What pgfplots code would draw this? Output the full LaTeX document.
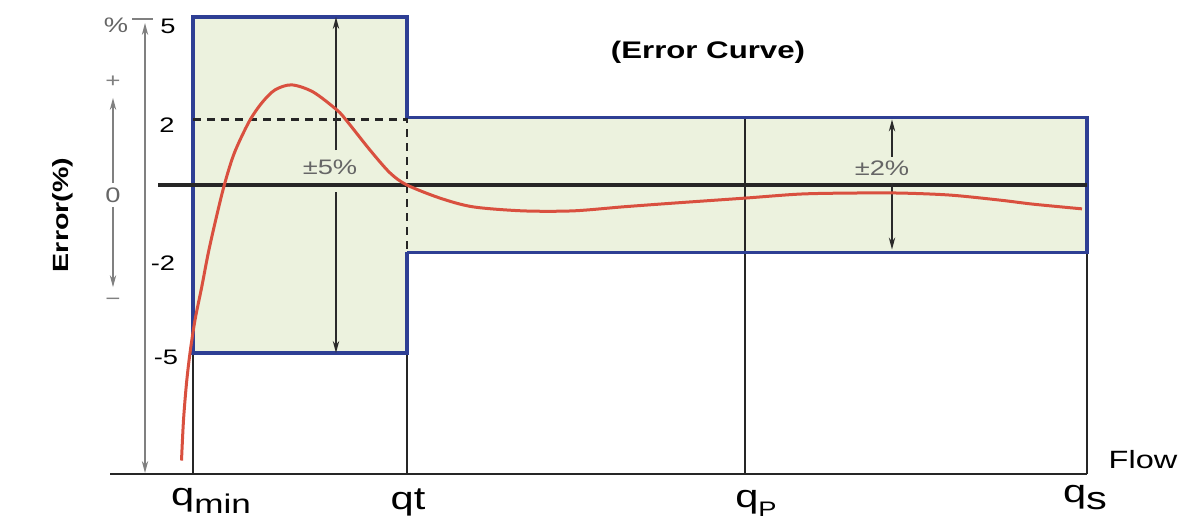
\documentclass[border=0pt]{standalone}
\usepackage{fontspec}
\setmainfont{Liberation Sans}[FakeStretch=1.3]
\usepackage{pgfplots}
\pgfplotsset{compat=1.18}
\usetikzlibrary{arrows.meta}

\definecolor{boxfill}{HTML}{ECF2DE}
\definecolor{boxblue}{HTML}{2E3F94}
\definecolor{curvered}{HTML}{D9503F}
\definecolor{lineblk}{HTML}{262626}
\definecolor{txt}{HTML}{2A2A2A}
\definecolor{soft}{HTML}{666666}

\newcommand{\fs}[1]{\fontsize{#1}{#1}\selectfont}

\begin{document}
\begin{tikzpicture}
\begin{axis}[
    scale only axis,
    width=597pt, height=263.5pt,
    xmin=0, xmax=1194,
    ymin=-10.179, ymax=5.506,
    hide axis, clip=false,
    every node/.style={inner sep=0pt, text=txt},
    tip/.style={-{Stealth[length=6pt,width=3.2pt]}},
    ]

% tolerance bands
\addplot[fill=boxfill, draw=none] coordinates {(193,-5) (407,-5) (407,5) (193,5)} -- cycle;
\addplot[fill=boxfill, draw=none] coordinates {(407,-2) (1087,-2) (1087,2) (407,2)} -- cycle;

% flow points, base line
\addplot[lineblk, line width=1.3pt] coordinates {(193,-5) (193,-8.6)};
\addplot[lineblk, line width=1.3pt] coordinates {(407,-5) (407,-8.6)};
\addplot[lineblk, line width=1.3pt] coordinates {(745,2) (745,-8.6)};
\addplot[lineblk, line width=1.3pt] coordinates {(1087,-2) (1087,-8.6)};
\addplot[lineblk, line width=1.3pt] coordinates {(110,-8.6) (1087,-8.6)};

% band outlines
\addplot[boxblue, line width=1.6pt] coordinates {(407,2) (407,5) (193,5) (193,-5) (407,-5) (407,-2)};
\addplot[boxblue, line width=1.6pt] coordinates {(407,2) (1087,2) (1087,-2) (407,-2)};
\addplot[lineblk, line width=1.2pt, dash pattern=on 4pt off 3pt] coordinates {(193,1.95) (407,1.95) (407,-2)};

% zero line
\addplot[lineblk, line width=2pt] coordinates {(158,0) (1087,0)};

% tolerance arrows
\addplot[txt, line width=0.7pt, tip] coordinates {(336,1.04) (336,5)};
\addplot[txt, line width=0.7pt, tip] coordinates {(336,-0.21) (336,-5)};
\addplot[txt, line width=0.7pt, tip] coordinates {(892,0.84) (892,1.95)};
\addplot[txt, line width=0.7pt, tip] coordinates {(892,0.06) (892,-1.92)};

% error axis
\addplot[gray, line width=0.6pt, tip] coordinates {(145,0) (145,4.82)};
\addplot[gray, line width=0.6pt, tip] coordinates {(145,0) (145,-8.57)};
\addplot[gray, line width=0.8pt] coordinates {(132,4.94) (153,4.94)};
\addplot[gray, line width=0.6pt, tip] coordinates {(113,0.06) (113,2.59)};
\addplot[gray, line width=0.6pt, tip] coordinates {(113,-0.65) (113,-3.04)};

% error curve
\addplot[curvered, line width=1.5pt, smooth, tension=0.5] coordinates {
    (181.5,-8.2) (183.5,-7.0) (186.5,-5.9) (190,-5.0) (195,-4.02)
    (201.7,-3.04) (208.3,-2.02) (215.7,-1.04) (224.3,0) (234.3,0.95)
    (249,1.88) (261.7,2.44) (275,2.83) (291.7,2.98) (313,2.77)
    (337,2.23) (347,1.9) (370,1.04) (390,0.36) (407,0) (440,-0.39)
    (473,-0.65) (523,-0.77) (573,-0.77) (623,-0.65) (673,-0.54)
    (745,-0.39) (800,-0.27) (850,-0.24) (900,-0.24) (950,-0.30)
    (1000,-0.45) (1033,-0.57) (1082,-0.71)
};

% texts
\node[font=\fs{12}\bfseries] at (axis cs:708,3.96) {(Error Curve)};
\node[font=\fs{11}\bfseries, rotate=90] at (axis cs:63,-0.89) {Error(\%)};
\node[font=\fs{12.5}] at (axis cs:1143,-8.18) {Flow};
\node[font=\fs{10.5}, text=soft] at (axis cs:330,0.54) {±5\%};
\node[font=\fs{10.5}, text=soft] at (axis cs:882,0.51) {±2\%};

\node[font=\fs{10.5}, text=soft] at (axis cs:116,4.76) {\%};
\node[font=\fs{10.5}] at (axis cs:168,4.73) {5};
\node[font=\fs{10.5}] at (axis cs:167,1.79) {2};
\node[font=\fs{10.5}, text=soft] at (axis cs:113,-0.30) {0};
\node[font=\fs{10.5}] at (axis cs:163,-2.32) {-2};
\node[font=\fs{10.5}] at (axis cs:166,-5.12) {-5};
\node[font=\fs{10}, text=gray] at (axis cs:113,3.07) {+};
\node[font=\fs{10}, text=gray] at (axis cs:113,-3.48) {−};

\node[anchor=base, font=\fs{16}] at (axis cs:211,-9.55) {q\raisebox{-4pt}{\fs{13.5}min}};
\node[anchor=base, font=\fs{16}] at (axis cs:408,-9.67) {qt};
\node[anchor=base, font=\fs{16}] at (axis cs:756,-9.61) {q\raisebox{-4.5pt}{\fs{10.5}P}};
\node[anchor=base, font=\fs{16}] at (axis cs:1085,-9.46) {q\raisebox{-3.5pt}{\fs{16}s}};
\end{axis}
\pgfresetboundingbox
\useasboundingbox (0,0) rectangle (597pt,263.5pt);
\end{tikzpicture}
\end{document}
